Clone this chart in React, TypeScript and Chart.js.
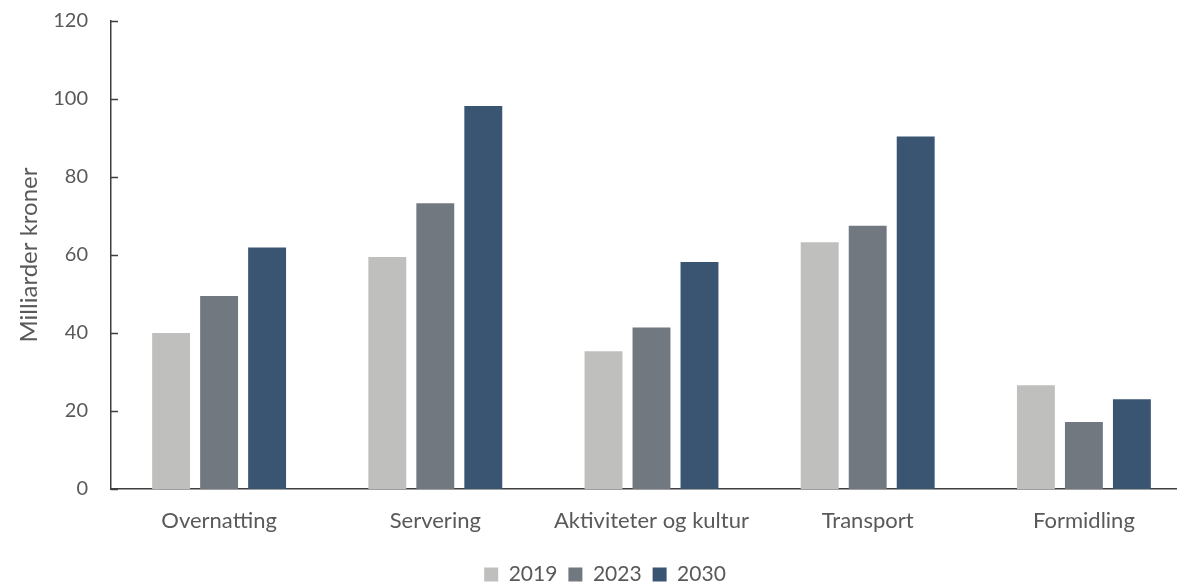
import { useEffect, useRef } from "react";
import { Chart, registerables } from "chart.js";

Chart.register(...registerables);

const categories = ["Overnatting", "Servering", "Aktiviteter og kultur", "Transport", "Formidling"];
const seriesLabels = ["2019", "2023", "2030"];
const values2019 = [40.0, 59.5, 35.3, 63.3, 26.6];
const values2023 = [49.5, 73.3, 41.4, 67.5, 17.2];
const values2030 = [61.9, 98.2, 58.2, 90.4, 23.0];
const yTicks = [0, 20, 40, 60, 80, 100, 120];
const yTitle = "Milliarder kroner";

const colors = ["#BFBFBE", "#717880", "#3A5572"];
const textColor = "#595959";
const axisColor = "#3F3F3F";
const fontFamily = "Lato, 'Noto Sans', sans-serif";

const innerTicks = {
  id: "innerTicks",
  afterDraw(chart: any) {
    const y = chart.scales.y;
    const ctx = chart.ctx;
    const left = chart.chartArea.left;
    ctx.save();
    ctx.strokeStyle = axisColor;
    ctx.lineWidth = 1.5;
    for (const v of yTicks) {
      const py = Math.round(y.getPixelForValue(v)) + 0.5;
      ctx.beginPath();
      ctx.moveTo(left, py);
      ctx.lineTo(left + 7, py);
      ctx.stroke();
    }
    ctx.restore();
  },
};

const shiftLegend = {
  id: "shiftLegend",
  afterLayout(chart: any) {
    const lg = chart.legend;
    if (lg) {
      lg.left += 9;
      lg.right += 9;
    }
  },
};

export default function App() {
  const ref = useRef<HTMLCanvasElement | null>(null);
  useEffect(() => {
    if (!ref.current) return;
    const data = [values2019, values2023, values2030];
    const chart = new Chart(ref.current, {
      type: "bar",
      data: {
        labels: categories,
        datasets: seriesLabels.map((l, i) => ({
          label: l,
          data: data[i],
          backgroundColor: colors[i],
          borderWidth: 0,
          barPercentage: 0.79,
          categoryPercentage: 0.666,
        })),
      },
      plugins: [innerTicks, shiftLegend],
      options: {
        animation: false,
        responsive: false,
        devicePixelRatio: 1,
        layout: { padding: { top: 21, right: 16, bottom: 0, left: 0 } },
        plugins: {
          tooltip: { enabled: false },
          legend: {
            position: "bottom",
            labels: {
              boxWidth: 14,
              boxHeight: 14,
              padding: 11,
              color: textColor,
              font: { family: fontFamily, size: 21 },
            },
          },
        },
        scales: {
          x: {
            afterFit(scale: any) {
              scale.height = 64;
            },
            grid: { display: false, drawTicks: false },
            border: { display: true, color: axisColor, width: 1.5 },
            ticks: {
              color: textColor,
              padding: 19,
              maxRotation: 0,
              autoSkip: false,
              font: { family: fontFamily, size: 22 },
            },
          },
          y: {
            min: 0,
            max: 120,
            afterFit(scale: any) {
              scale.width = 111;
              scale.paddingTop = 0;
              scale.paddingBottom = 0;
            },
            afterBuildTicks(scale: any) {
              scale.ticks = yTicks.map((v) => ({ value: v }));
            },
            grid: { display: false, drawTicks: false },
            border: { display: true, color: axisColor, width: 1.5 },
            ticks: {
              color: textColor,
              padding: 23,
              font: { family: fontFamily, size: 20 },
            },
            title: {
              display: true,
              text: yTitle,
              color: textColor,
              padding: { top: 15, bottom: 0 },
              font: { family: fontFamily, size: 24 },
            },
          },
        },
      },
    });
    return () => chart.destroy();
  }, []);
  return (
    <div style={{ position: "fixed", left: 0, top: 0, width: 1177, height: 584, overflow: "hidden", background: "#fff" }}>
      <canvas ref={ref} width={1208} height={595} style={{ display: "block" }} />
    </div>
  );
}
